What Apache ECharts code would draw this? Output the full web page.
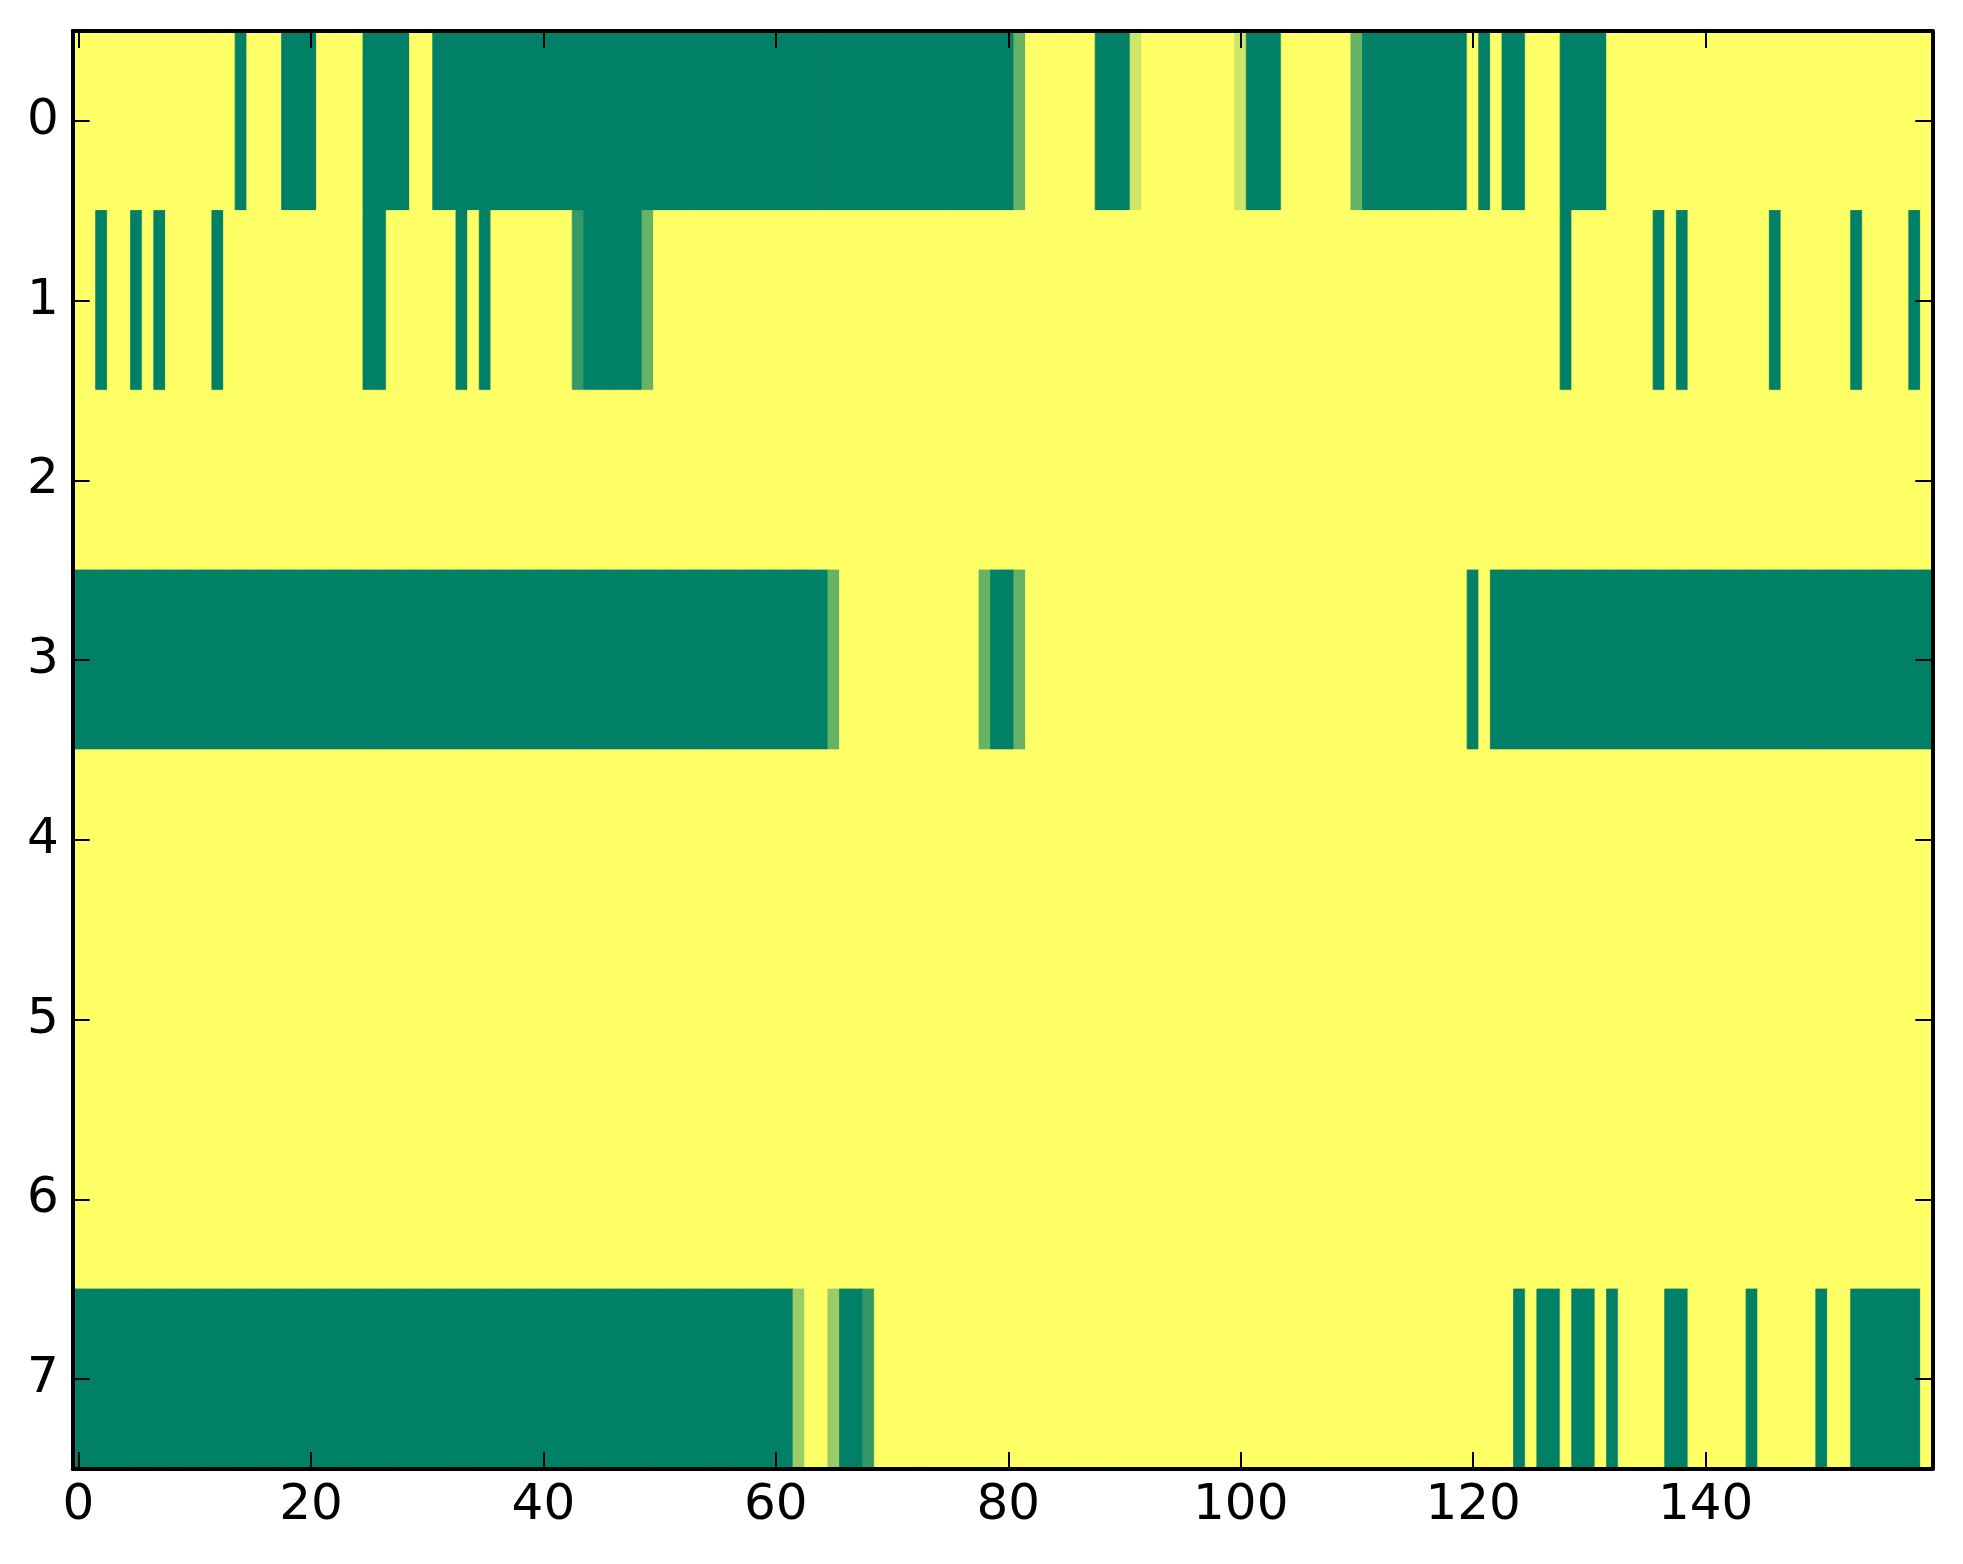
<!DOCTYPE html>
<html>
<head>
<meta charset="utf-8">
<script src="https://cdn.jsdelivr.net/npm/echarts@6/dist/echarts.min.js"></script>
<style>
html,body{margin:0;padding:0;background:#fff;}
#chart{width:1963px;height:1564px;}
</style>
</head>
<body>
<div id="chart"></div>
<script>
// Row values (1 = yellow, 0 = green, fractions = intermediate), 160 columns each
const row0 = [
1,1,1,1,1,1,1,1,1,1, 1,1,1,1,0,1,1,1,0,0,
0,1,1,1,1,0,0,0,0,1, 1,0,0,0,0,0,0,0,0,0,
0,0,0,0,0,0,0,0,0,0, 0,0,0,0,0,0,0,0,0,0,
0,0,0,0,0,0,0,0,0,0, 0,0,0,0,0,0,0,0,0,0,
0,0.4,1,1,1,1,1,1,0,0, 0,0.8,1,1,1,1,1,1,1,1,
0.8,0,0,0,1,1,1,1,1,1, 0.4,0,0,0,0,0,0,0,0,0,
1,0,1,0,0,1,1,1,0,0, 0,0,1,1,1,1,1,1,1,1,
1,1,1,1,1,1,1,1,1,1, 1,1,1,1,1,1,1,1,1,1
];
const row1 = [
1,1,0,1,1,0,1,0,1,1, 1,1,0,1,1,1,1,1,1,1,
1,1,1,1,1,0,0,1,1,1, 1,1,1,0,1,0,1,1,1,1,
1,1,1,0.2,0,0,0,0,0,0.4, 1,1,1,1,1,1,1,1,1,1,
1,1,1,1,1,1,1,1,1,1, 1,1,1,1,1,1,1,1,1,1,
1,1,1,1,1,1,1,1,1,1, 1,1,1,1,1,1,1,1,1,1,
1,1,1,1,1,1,1,1,1,1, 1,1,1,1,1,1,1,1,1,1,
1,1,1,1,1,1,1,1,0,1, 1,1,1,1,1,1,0,1,0,1,
1,1,1,1,1,1,0,1,1,1, 1,1,1,0,1,1,1,1,0,1
];
const row2 = [
1,1,1,1,1,1,1,1,1,1, 1,1,1,1,1,1,1,1,1,1,
1,1,1,1,1,1,1,1,1,1, 1,1,1,1,1,1,1,1,1,1,
1,1,1,1,1,1,1,1,1,1, 1,1,1,1,1,1,1,1,1,1,
1,1,1,1,1,1,1,1,1,1, 1,1,1,1,1,1,1,1,1,1,
1,1,1,1,1,1,1,1,1,1, 1,1,1,1,1,1,1,1,1,1,
1,1,1,1,1,1,1,1,1,1, 1,1,1,1,1,1,1,1,1,1,
1,1,1,1,1,1,1,1,1,1, 1,1,1,1,1,1,1,1,1,1,
1,1,1,1,1,1,1,1,1,1, 1,1,1,1,1,1,1,1,1,1
];
const row3 = [
0,0,0,0,0,0,0,0,0,0, 0,0,0,0,0,0,0,0,0,0,
0,0,0,0,0,0,0,0,0,0, 0,0,0,0,0,0,0,0,0,0,
0,0,0,0,0,0,0,0,0,0, 0,0,0,0,0,0,0,0,0,0,
0,0,0,0,0,0.4,1,1,1,1, 1,1,1,1,1,1,1,1,0.4,0,
0,0.4,1,1,1,1,1,1,1,1, 1,1,1,1,1,1,1,1,1,1,
1,1,1,1,1,1,1,1,1,1, 1,1,1,1,1,1,1,1,1,1,
0,1,0,0,0,0,0,0,0,0, 0,0,0,0,0,0,0,0,0,0,
0,0,0,0,0,0,0,0,0,0, 0,0,0,0,0,0,0,0,0,0
];
const row4 = [
1,1,1,1,1,1,1,1,1,1, 1,1,1,1,1,1,1,1,1,1,
1,1,1,1,1,1,1,1,1,1, 1,1,1,1,1,1,1,1,1,1,
1,1,1,1,1,1,1,1,1,1, 1,1,1,1,1,1,1,1,1,1,
1,1,1,1,1,1,1,1,1,1, 1,1,1,1,1,1,1,1,1,1,
1,1,1,1,1,1,1,1,1,1, 1,1,1,1,1,1,1,1,1,1,
1,1,1,1,1,1,1,1,1,1, 1,1,1,1,1,1,1,1,1,1,
1,1,1,1,1,1,1,1,1,1, 1,1,1,1,1,1,1,1,1,1,
1,1,1,1,1,1,1,1,1,1, 1,1,1,1,1,1,1,1,1,1
];
const row5 = [
1,1,1,1,1,1,1,1,1,1, 1,1,1,1,1,1,1,1,1,1,
1,1,1,1,1,1,1,1,1,1, 1,1,1,1,1,1,1,1,1,1,
1,1,1,1,1,1,1,1,1,1, 1,1,1,1,1,1,1,1,1,1,
1,1,1,1,1,1,1,1,1,1, 1,1,1,1,1,1,1,1,1,1,
1,1,1,1,1,1,1,1,1,1, 1,1,1,1,1,1,1,1,1,1,
1,1,1,1,1,1,1,1,1,1, 1,1,1,1,1,1,1,1,1,1,
1,1,1,1,1,1,1,1,1,1, 1,1,1,1,1,1,1,1,1,1,
1,1,1,1,1,1,1,1,1,1, 1,1,1,1,1,1,1,1,1,1
];
const row6 = [
1,1,1,1,1,1,1,1,1,1, 1,1,1,1,1,1,1,1,1,1,
1,1,1,1,1,1,1,1,1,1, 1,1,1,1,1,1,1,1,1,1,
1,1,1,1,1,1,1,1,1,1, 1,1,1,1,1,1,1,1,1,1,
1,1,1,1,1,1,1,1,1,1, 1,1,1,1,1,1,1,1,1,1,
1,1,1,1,1,1,1,1,1,1, 1,1,1,1,1,1,1,1,1,1,
1,1,1,1,1,1,1,1,1,1, 1,1,1,1,1,1,1,1,1,1,
1,1,1,1,1,1,1,1,1,1, 1,1,1,1,1,1,1,1,1,1,
1,1,1,1,1,1,1,1,1,1, 1,1,1,1,1,1,1,1,1,1
];
const row7 = [
0,0,0,0,0,0,0,0,0,0, 0,0,0,0,0,0,0,0,0,0,
0,0,0,0,0,0,0,0,0,0, 0,0,0,0,0,0,0,0,0,0,
0,0,0,0,0,0,0,0,0,0, 0,0,0,0,0,0,0,0,0,0,
0,0,0.6,1,1,0.6,0,0,0.2,1, 1,1,1,1,1,1,1,1,1,1,
1,1,1,1,1,1,1,1,1,1, 1,1,1,1,1,1,1,1,1,1,
1,1,1,1,1,1,1,1,1,1, 1,1,1,1,1,1,1,1,1,1,
1,1,1,1,0,1,0,0,1,0, 0,1,0,1,1,1,1,0,0,1,
1,1,1,1,0,1,1,1,1,1, 0,1,1,0,0,0,0,0,0,1
];
const rows = [row0, row1, row2, row3, row4, row5, row6, row7];
const yLabels = ['0','1','2','3','4','5','6','7'];
const xTickLabels = ['0','20','40','60','80','100','120','140'];

// matplotlib "summer" colormap: r = v, g = 0.5 + 0.5 v, b = 0.4
function summer(v) {
  const r = Math.round(255 * v);
  const g = Math.round(255 * (0.5 + 0.5 * v));
  const b = Math.round(255 * 0.4);
  return 'rgb(' + r + ',' + g + ',' + b + ')';
}

const xCats = row0.map((_, i) => String(i));
const data = [];
rows.forEach((r, y) => r.forEach((v, x) => {
  const c = summer(v);
  data.push({value: [x, y, v], itemStyle: {color: c, borderColor: c, borderWidth: 0.8}});
}));

const FONT = 'DejaVu Sans';
const showX = (i) => xTickLabels.indexOf(String(i)) >= 0;

const chart = echarts.init(document.getElementById('chart'), null, {renderer: 'canvas'});
const axisLine = {show: true, onZero: false, lineStyle: {color: '#000', width: 4}};
const tick = (interval) => ({show: true, inside: true, length: 17, alignWithLabel: true, interval: interval, lineStyle: {color: '#000', width: 2}});

chart.setOption({
  animation: false,
  backgroundColor: '#ffffff',
  grid: {left: 72.7, right: 30.7, top: 31, bottom: 95, containLabel: false},
  xAxis: [
    {type: 'category', data: xCats, position: 'bottom', z: 10,
     axisLine: axisLine, axisTick: tick(showX), splitLine: {show: false},
     axisLabel: {show: true, interval: showX, margin: 12, color: '#000', fontFamily: FONT, fontSize: 50}},
    {type: 'category', data: xCats, position: 'top', z: 10,
     axisLine: axisLine, axisTick: tick(showX), splitLine: {show: false},
     axisLabel: {show: false}}
  ],
  yAxis: [
    {type: 'category', data: yLabels, inverse: true, position: 'left', z: 10,
     axisLine: axisLine, axisTick: tick(0), splitLine: {show: false},
     axisLabel: {show: true, margin: 14, color: '#000', fontFamily: FONT, fontSize: 50}},
    {type: 'category', data: yLabels, inverse: true, position: 'right', z: 10,
     axisLine: axisLine, axisTick: tick(0), splitLine: {show: false},
     axisLabel: {show: false}}
  ],
  series: [{
    type: 'heatmap', xAxisIndex: 0, yAxisIndex: 0, data: data,
    progressive: 0, emphasis: {disabled: true}
  }]
});
</script>
</body>
</html>
